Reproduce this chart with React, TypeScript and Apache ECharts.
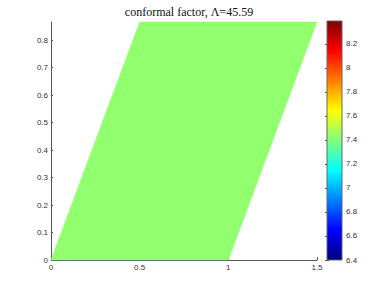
import React, { useEffect, useRef } from "react";
import * as echarts from "echarts";

const titleText = "conformal factor, Λ=45.59";
const vertexX = [0, 1, 1.5, 0.5];
const vertexY = [0, 0, 0.866, 0.866];
const faceValue = 7.43;
const colorMin = 6.4;
const colorMax = 8.39;
const xTicks = [0, 0.5, 1, 1.5];
const yMax = 0.866;

function jet(t: number): string {
  const c = (v: number) => Math.round(Math.max(0, Math.min(1, v)) * 255);
  const r = c(1.5 - Math.abs(4 * t - 3));
  const g = c(1.5 - Math.abs(4 * t - 2));
  const b = c(1.5 - Math.abs(4 * t - 1));
  return `rgb(${r},${g},${b})`;
}

export default function App() {
  const ref = useRef<HTMLDivElement>(null);
  useEffect(() => {
    if (!ref.current) return;
    const chart = echarts.init(ref.current, undefined, { renderer: "svg" });
    const labelStyle = { color: "#333", fontSize: 8, fontFamily: "Liberation Sans" };
    const stops = [];
    for (let i = 0; i <= 64; i++) {
      const t = i / 64;
      stops.push({ offset: t, color: jet(t) });
    }
    const faceT = (faceValue - colorMin) / (colorMax - colorMin);
    chart.setOption({
      animation: false,
      backgroundColor: "#fff",
      title: {
        text: titleText,
        left: 184,
        top: 1,
        textAlign: "center",
        textStyle: { fontFamily: "Liberation Serif", fontSize: 12, fontWeight: "normal", color: "#111" },
      },
      grid: [
        { left: 51, right: 73, top: 22, bottom: 33 },
        { left: 327, width: 15, top: 21, bottom: 33 },
      ],
      xAxis: [
        {
          gridIndex: 0,
          type: "value",
          min: 0,
          max: 1.5,
          interval: 0.5,
          splitLine: { show: false },
          axisLine: { lineStyle: { color: "#555" } },
          axisTick: { inside: true, length: 3, lineStyle: { color: "#555" } },
          axisLabel: { ...labelStyle, margin: 3, formatter: (v: number) => (xTicks.includes(v) ? String(v) : "") },
        },
        { gridIndex: 1, type: "value", min: 0, max: 1, show: false },
      ],
      yAxis: [
        {
          gridIndex: 0,
          type: "value",
          min: 0,
          max: yMax,
          interval: 0.1,
          splitLine: { show: false },
          axisLine: { lineStyle: { color: "#555" } },
          axisTick: { inside: true, length: 2, lineStyle: { color: "#555" } },
          axisLabel: { ...labelStyle, margin: 3, showMaxLabel: false, formatter: (v: number) => String(Math.round(v * 10) / 10) },
        },
        {
          gridIndex: 1,
          type: "value",
          position: "right",
          min: colorMin,
          max: colorMax,
          interval: 0.2,
          splitLine: { show: false },
          axisLine: { show: false },
          axisTick: { inside: true, length: 2, lineStyle: { color: "#555" } },
          axisLabel: { ...labelStyle, margin: 4, showMaxLabel: false, formatter: (v: number) => String(Math.round(v * 10) / 10) },
        },
        {
          gridIndex: 1,
          type: "value",
          position: "left",
          min: colorMin,
          max: colorMax,
          interval: 0.2,
          splitLine: { show: false },
          axisLine: { show: false },
          axisTick: { inside: true, length: 2, lineStyle: { color: "#555" } },
          axisLabel: { show: false },
        },
      ],
      series: [
        {
          type: "custom",
          xAxisIndex: 0,
          yAxisIndex: 0,
          data: vertexX.map((x, i) => [x, vertexY[i]]),
          renderItem: (params: any, api: any) => {
            if (params.dataIndex !== 0) return null;
            const pts = vertexX.map((x, i) => api.coord([x, vertexY[i]]));
            return {
              type: "polygon",
              shape: { points: pts },
              style: { fill: jet(faceT), stroke: jet(faceT), lineWidth: 0.5 },
            };
          },
        },
        {
          type: "custom",
          xAxisIndex: 1,
          yAxisIndex: 1,
          z: 1,
          data: [[0, colorMin, 1, colorMax]],
          renderItem: (params: any, api: any) => {
            const p0 = api.coord([api.value(0), api.value(1)]);
            const p1 = api.coord([api.value(2), api.value(3)]);
            return {
              type: "rect",
              shape: { x: p0[0], y: p1[1], width: p1[0] - p0[0], height: p0[1] - p1[1] },
              style: {
                fill: new echarts.graphic.LinearGradient(0, 1, 0, 0, stops),
                stroke: "#666",
                lineWidth: 1,
              },
            };
          },
        },
      ],
    });
    return () => chart.dispose();
  }, []);
  return <div ref={ref} style={{ position: "absolute", left: 0, top: 0, width: 390, height: 293 }} />;
}
